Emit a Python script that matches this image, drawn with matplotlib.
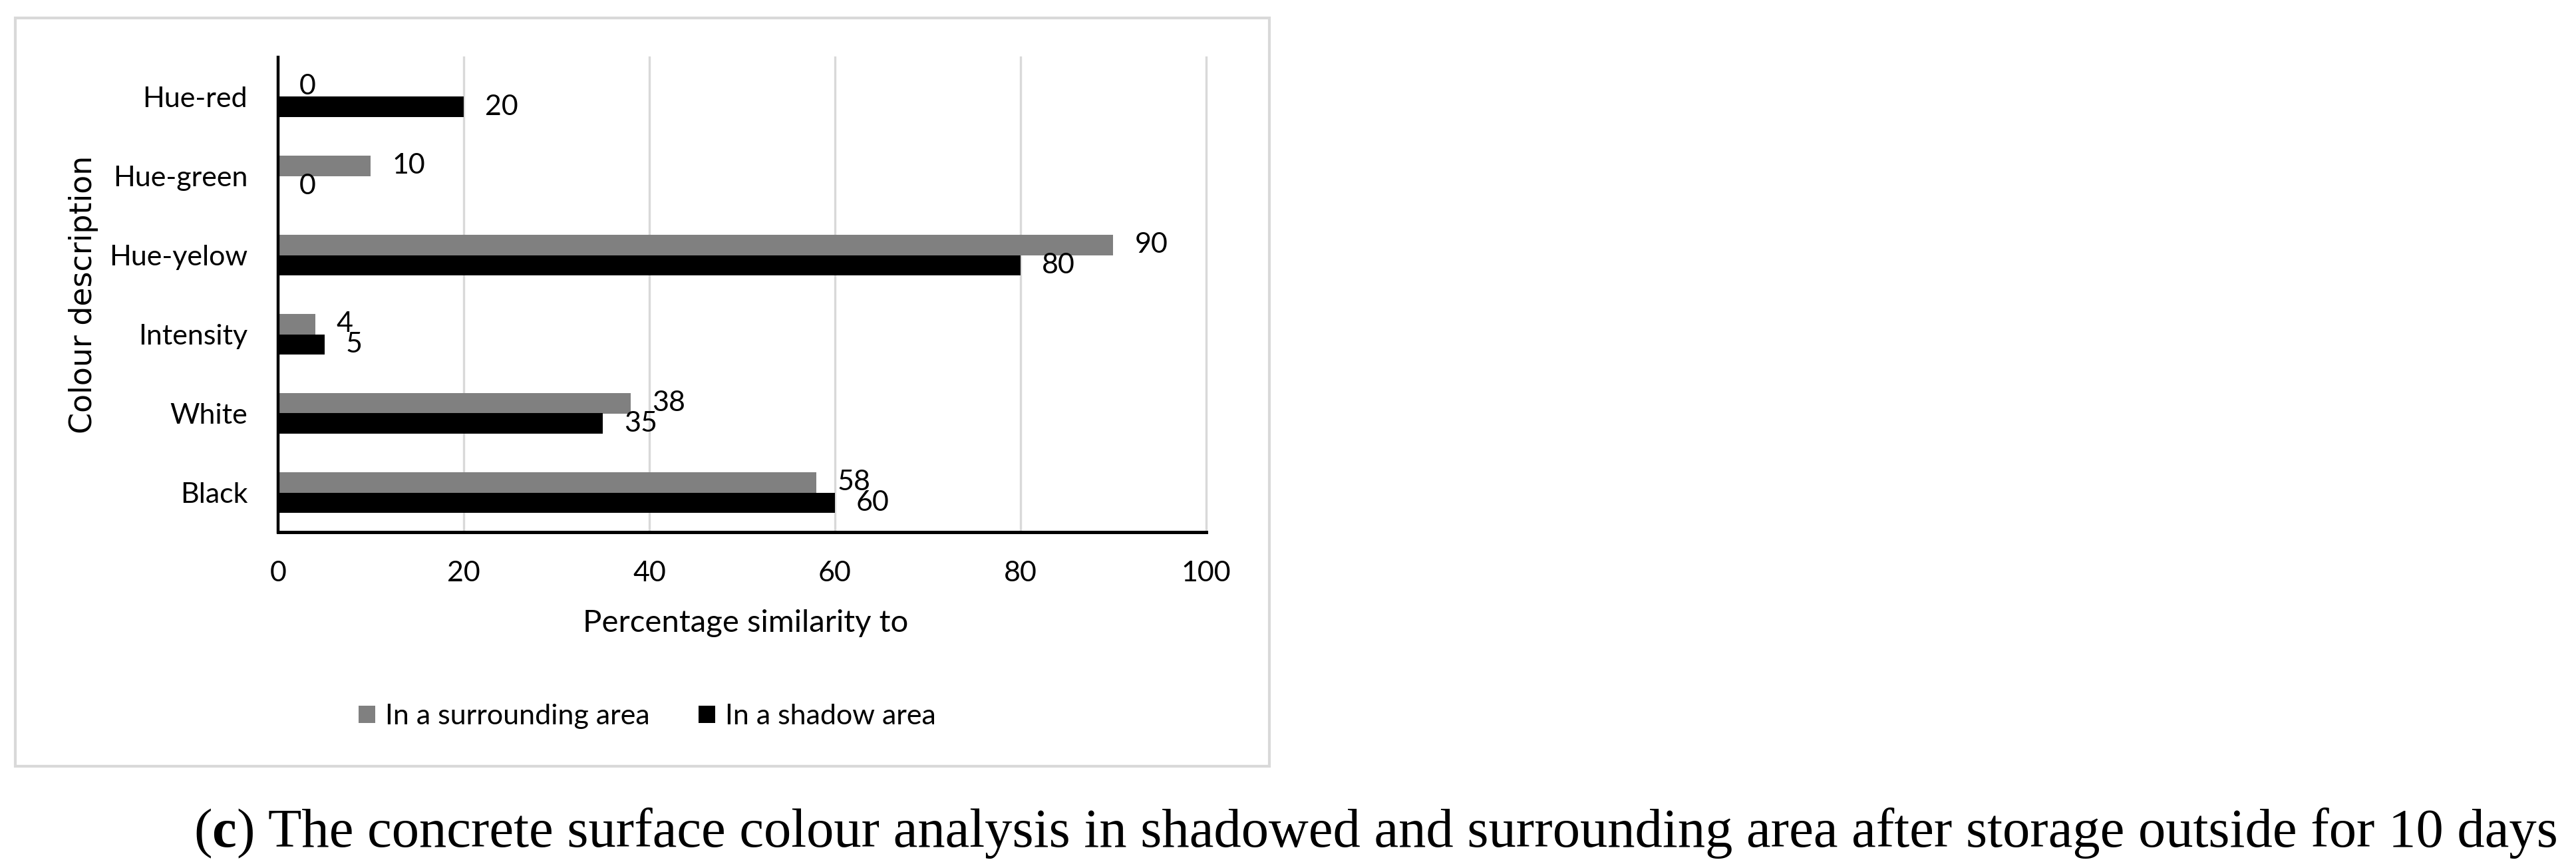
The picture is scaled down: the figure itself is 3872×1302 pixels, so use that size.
import matplotlib
matplotlib.use("Agg")
import matplotlib.pyplot as plt
from matplotlib.patches import Rectangle
import numpy as np

# ---------------- data ----------------
categories = ["Black", "White", "Intensity", "Hue-yelow", "Hue-green", "Hue-red"]
surrounding = [58, 38, 4, 90, 10, 0]
shadow = [60, 35, 5, 80, 0, 20]
series_labels = ["In a surrounding area", "In a shadow area"]
x_ticks = [0, 20, 40, 60, 80, 100]
x_label = "Percentage similarity to"
y_label = "Colour description"
caption_tag = "c"
caption_text = "The concrete surface colour analysis in shadowed and surrounding area after storage outside for 10 days"

# ---------------- figure ----------------
W, H = 3873, 1302
DPI = 100
fig = plt.figure(figsize=(W / DPI, H / DPI), dpi=DPI)
fig.patch.set_facecolor("white")

SANS = "Lato"
TICK_FS = 31

ax = fig.add_axes([418 / W, 1 - 800 / H, (1813 - 418) / W, (800 - 86) / H])
ypos = np.arange(len(categories))
h = 0.256
b1 = ax.barh(ypos + h / 2, surrounding, height=h, color="#808080",
             label=series_labels[0], zorder=3)
b2 = ax.barh(ypos - h / 2, shadow, height=h, color="#000000",
             label=series_labels[1], zorder=3)

for bars, vals in ((b1, surrounding), (b2, shadow)):
    ax.bar_label(bars, labels=[str(v) for v in vals], padding=23,
                 fontsize=TICK_FS, family=SANS, color="#000000")

ax.set_xlim(0, 100)
ax.set_ylim(-0.5, len(categories) - 0.5)
ax.set_xticks(x_ticks)
ax.set_xticklabels([str(v) for v in x_ticks], family=SANS, fontsize=TICK_FS)
ax.set_yticks(ypos)
ax.set_yticklabels(categories, family=SANS, fontsize=TICK_FS)
ax.tick_params(axis="y", length=0, pad=33, colors="#000000")
ax.tick_params(axis="x", length=0, pad=31, colors="#000000")

ax.xaxis.grid(True, color="#d9d9d9", lw=2.4, zorder=0)
ax.set_axisbelow(True)
for g in ax.get_xgridlines():
    g.set_clip_on(False)

for s in ("top", "right"):
    ax.spines[s].set_visible(False)
ax.spines["left"].set_linewidth(3.2)
ax.spines["left"].set_zorder(4)
ax.spines["bottom"].set_linewidth(3.6)
ax.spines["bottom"].set_zorder(4)

ax.set_xlabel(x_label, family=SANS, fontsize=34, va="center")
ax.xaxis.set_label_coords(0.5036, (800 - 937) / 714)
ax.set_ylabel(y_label, family="DejaVu Sans", fontsize=33, va="center")
ax.yaxis.set_label_coords((126 - 418) / 1395, 0.5)

# legend
fig.legend(handles=[b1, b2], labels=series_labels, loc="center",
           bbox_to_anchor=(973 / W, 1 - 1077 / H), ncol=2, frameon=False,
           prop={"family": SANS, "size": 31}, handlelength=0.58,
           handleheight=0.56, handletextpad=0.35, columnspacing=1.7,
           borderpad=0, borderaxespad=0)

# outer chart frame
fig.add_artist(Rectangle((23 / W, 1 - 1152 / H), (1908 - 23) / W, (1152 - 27) / H,
                         transform=fig.transFigure, fill=False,
                         edgecolor="#d9d9d9", lw=3))

# ---------------- caption ----------------
SERIF = "Liberation Serif"
left_px, right_px, base_px = 291, 3851, 1273
parts = [("(", "normal"), (caption_tag, "bold"), (")", "normal"), (caption_text, "normal")]
texts = [fig.text(0, 1 - base_px / H, s, fontsize=60, fontweight=w, family=SERIF,
                  va="baseline", ha="left", color="#000000") for s, w in parts]

renderer = fig.canvas.get_renderer()


def layout(size):
    for t in texts:
        t.set_fontsize(size)
    gap = 0.25 * size * DPI / 72.0
    x = left_px
    for i, t in enumerate(texts):
        if i == 3:
            x += gap
        t.set_x(x / W)
        x += t.get_window_extent(renderer).width
    return x - left_px


total = layout(60)
size = 60 * (right_px - left_px) / total
layout(size)

fig.savefig("out.png", dpi=DPI, facecolor="white")
